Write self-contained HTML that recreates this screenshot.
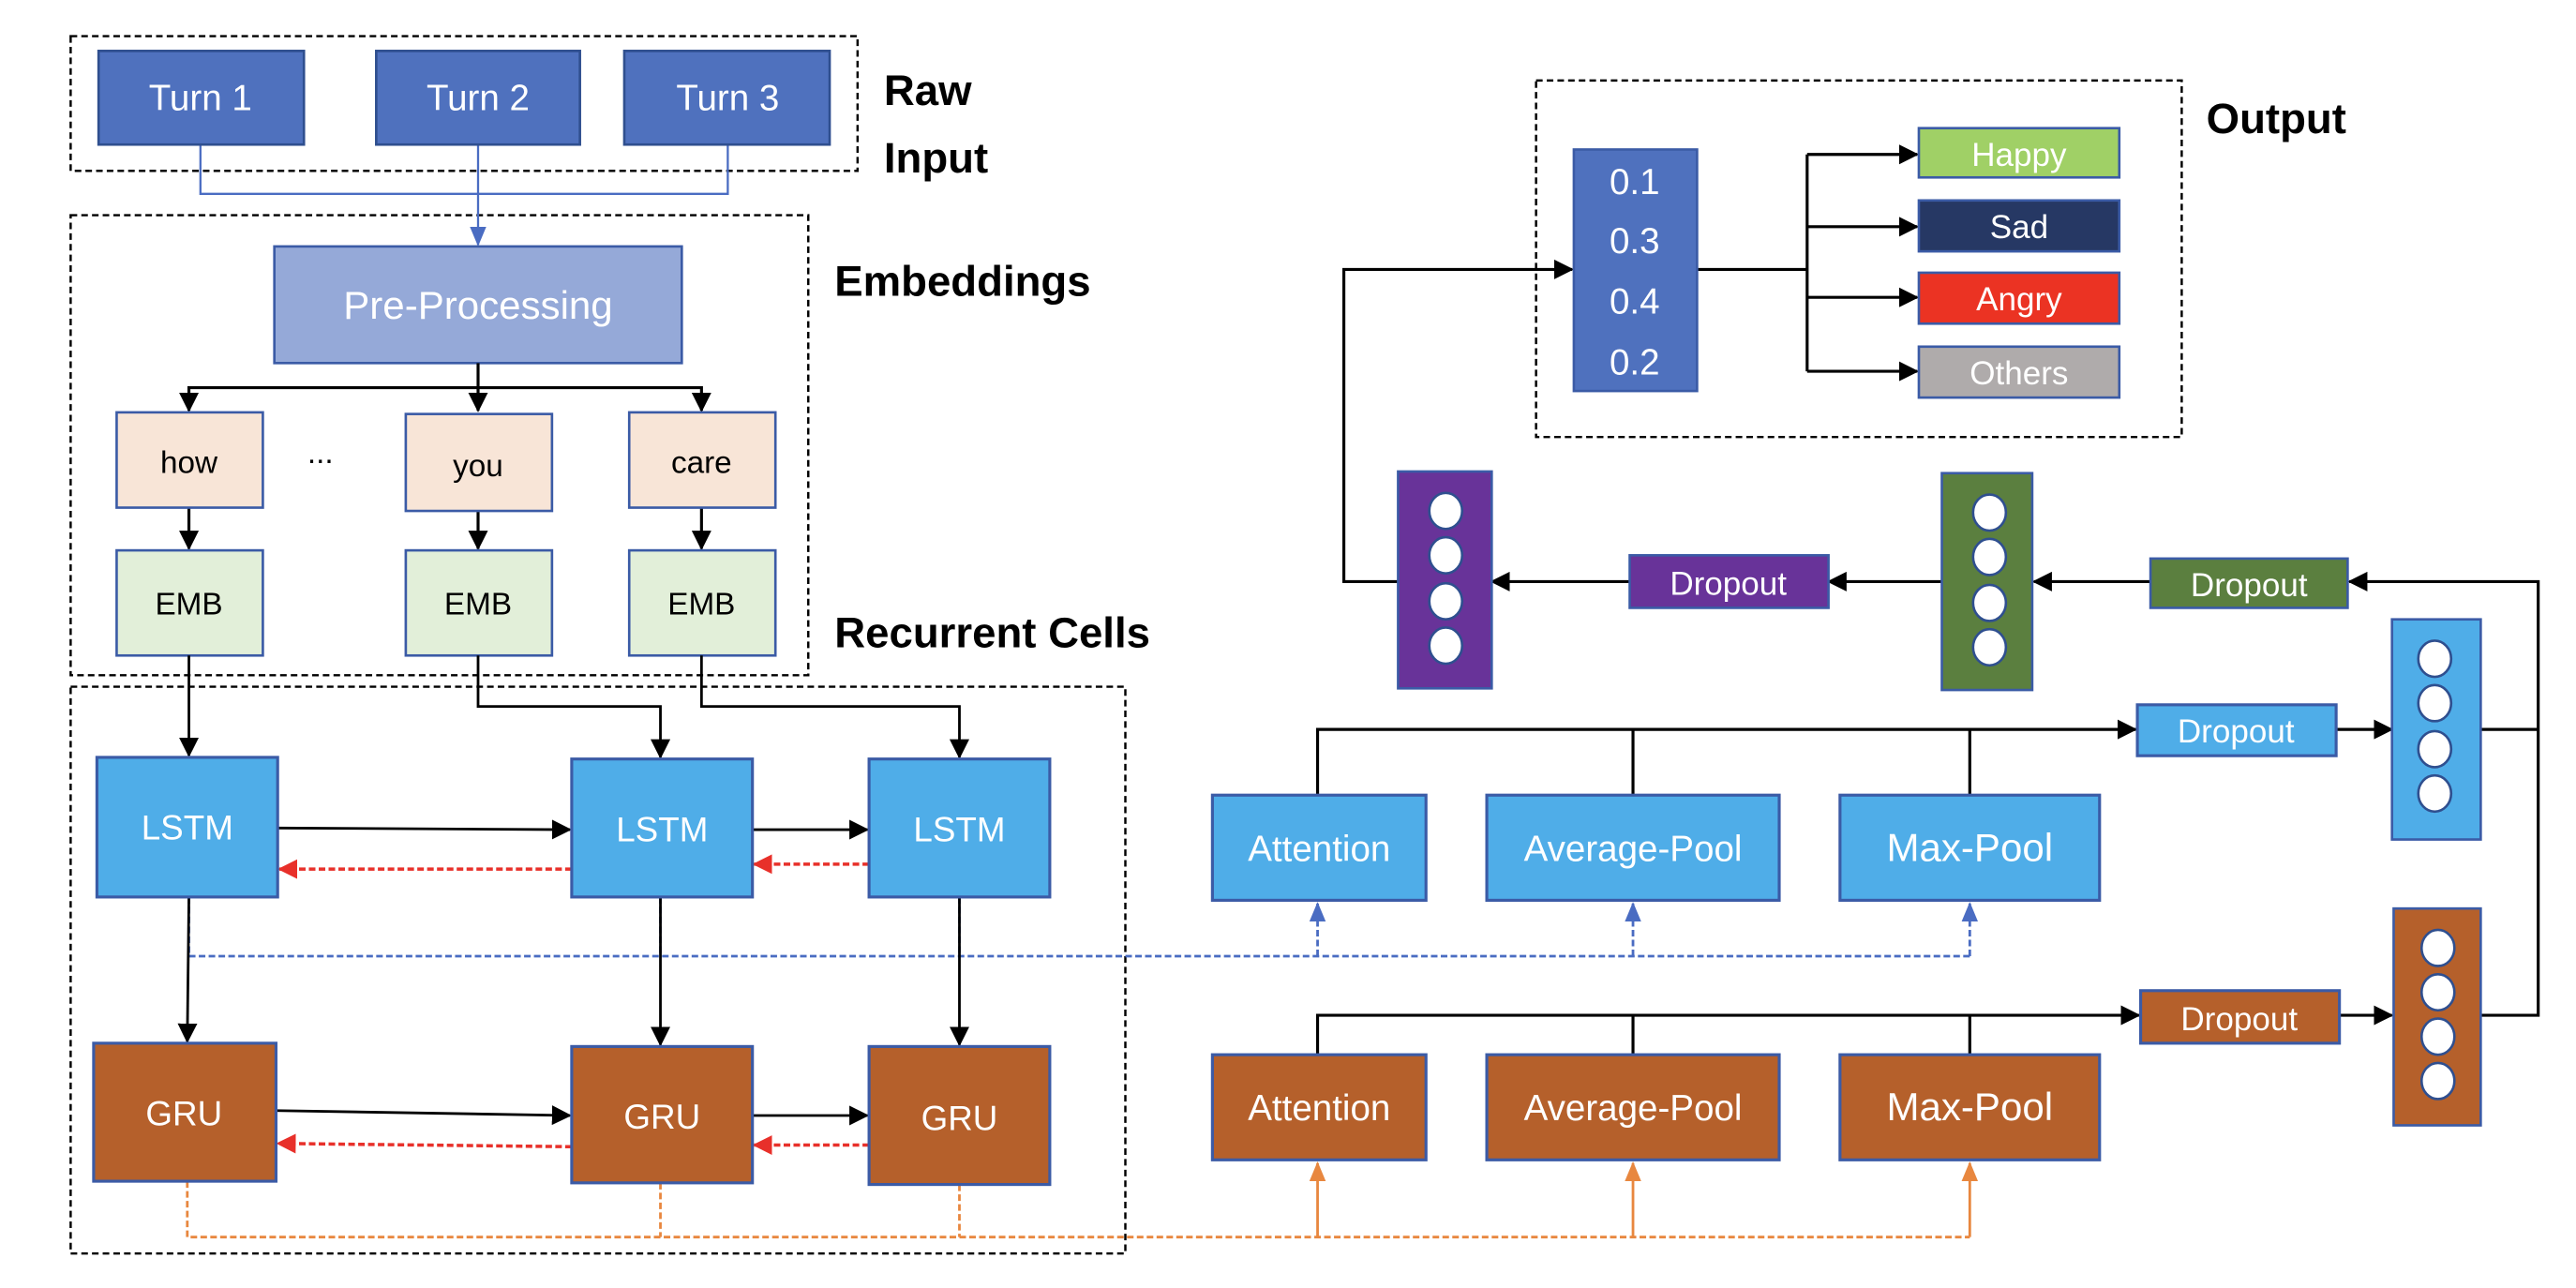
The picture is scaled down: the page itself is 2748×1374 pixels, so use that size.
<!DOCTYPE html>
<html><head><meta charset="utf-8"><style>
html,body{margin:0;padding:0;background:#fff;}
svg{display:block;}
text{font-family:"Liberation Sans",sans-serif;}
</style></head><body>
<svg width="2748" height="1374" viewBox="0 0 1568 784" xmlns="http://www.w3.org/2000/svg">
<defs>
<marker id="ab" markerWidth="12" markerHeight="12" refX="11" refY="6" orient="auto" markerUnits="userSpaceOnUse"><path d="M0,0 L12,6 L0,12 z" fill="#000"/></marker>
<marker id="ar" markerWidth="12" markerHeight="12" refX="11" refY="6" orient="auto" markerUnits="userSpaceOnUse"><path d="M0,0 L12,6 L0,12 z" fill="#e8302a"/></marker>
<marker id="abl" markerWidth="12" markerHeight="12" refX="11" refY="6" orient="auto" markerUnits="userSpaceOnUse"><path d="M0,1 L12,6 L0,11 z" fill="#4a6cc2"/></marker>
<marker id="ao" markerWidth="12" markerHeight="12" refX="11" refY="6" orient="auto" markerUnits="userSpaceOnUse"><path d="M0,1 L12,6 L0,11 z" fill="#e8873f"/></marker>
</defs>

<g fill="none" stroke="#000" stroke-width="1.4" stroke-dasharray="4,2.5">
<rect x="43" y="22" width="479" height="82"/>
<rect x="43" y="131" width="449" height="280"/>
<rect x="43" y="418" width="642" height="345"/>
<rect x="935" y="49" width="393" height="217"/>
</g>

<g font-weight="bold" font-size="26" fill="#000">
<text x="538" y="64">Raw</text>
<text x="538" y="105">Input</text>
<text x="508" y="180">Embeddings</text>
<text x="508" y="394">Recurrent Cells</text>
<text x="1343" y="81">Output</text>
</g>

<g fill="none" stroke="#4a6cc2" stroke-width="1.3">
<path d="M122,88 V118 H443 V88"/>
<path d="M291,88 V149" marker-end="url(#abl)"/>
</g>

<g stroke="#2f4f8f" stroke-width="1.5" fill="#4f71be">
<rect x="60" y="31" width="125" height="57"/>
<rect x="229" y="31" width="124" height="57"/>
<rect x="380" y="31" width="125" height="57"/>
</g>
<g fill="#fff" font-size="22" text-anchor="middle">
<text x="122" y="67">Turn 1</text>
<text x="291" y="67">Turn 2</text>
<text x="443" y="67">Turn 3</text>
</g>

<rect x="167" y="150" width="248" height="71" fill="#95a9d8" stroke="#3b5ba6" stroke-width="1.5"/>
<text x="291" y="194" fill="#fff" font-size="24" text-anchor="middle">Pre-Processing</text>

<g fill="none" stroke="#000" stroke-width="1.8">
<path d="M291,221 V236 H115 V250" marker-end="url(#ab)"/>
<path d="M291,236 V250" marker-end="url(#ab)"/>
<path d="M291,236 H427 V250" marker-end="url(#ab)"/>
<path d="M115,309 V334" marker-end="url(#ab)"/>
<path d="M291,311 V334" marker-end="url(#ab)"/>
<path d="M427,309 V334" marker-end="url(#ab)"/>
</g>

<g stroke="#3b5ba6" stroke-width="1.5" fill="#f8e5d7">
<rect x="71" y="251" width="89" height="58"/>
<rect x="247" y="252" width="89" height="59"/>
<rect x="383" y="251" width="89" height="58"/>
</g>
<g font-size="19" text-anchor="middle" fill="#000">
<text x="115" y="288">how</text>
<text x="291" y="290">you</text>
<text x="427" y="288">care</text>
<text x="195" y="282">...</text>
</g>
<g stroke="#3b5ba6" stroke-width="1.5" fill="#e2efd9">
<rect x="71" y="335" width="89" height="64"/>
<rect x="247" y="335" width="89" height="64"/>
<rect x="383" y="335" width="89" height="64"/>
</g>
<g font-size="19" text-anchor="middle" fill="#000">
<text x="115" y="374">EMB</text>
<text x="291" y="374">EMB</text>
<text x="427" y="374">EMB</text>
</g>

<g fill="none" stroke="#000" stroke-width="1.6">
<path d="M115,399 V460" marker-end="url(#ab)"/>
<path d="M291,399 V430 H402 V461" marker-end="url(#ab)"/>
<path d="M427,399 V430 H584 V461" marker-end="url(#ab)"/>
</g>

<g fill="none" stroke="#4a6cc2" stroke-width="1.6" stroke-dasharray="4,2">
<path d="M115,546 V582 H1199"/>
<path d="M402,546 V582"/>
<path d="M584,546 V582"/>
<path d="M802,582 V550" marker-end="url(#abl)"/>
<path d="M994,582 V550" marker-end="url(#abl)"/>
<path d="M1199,582 V550" marker-end="url(#abl)"/>
</g>
<g fill="none" stroke="#e8873f" stroke-width="1.6" stroke-dasharray="4,2">
<path d="M114,719 V753 H1199"/>
<path d="M402,720 V753"/>
<path d="M584,721 V753"/>
</g>
<g fill="none" stroke="#e8873f" stroke-width="1.6">
<path d="M802,753 V708" marker-end="url(#ao)"/>
<path d="M994,753 V708" marker-end="url(#ao)"/>
<path d="M1199,753 V708" marker-end="url(#ao)"/>
</g>

<g fill="none" stroke="#000" stroke-width="1.6">
<path d="M115,546 L114,634" marker-end="url(#ab)"/>
<path d="M402,546 V636" marker-end="url(#ab)"/>
<path d="M584,546 V636" marker-end="url(#ab)"/>
<path d="M169,504 L347,505" marker-end="url(#ab)"/>
<path d="M458,505 H528" marker-end="url(#ab)"/>
<path d="M168,676 L347,679" marker-end="url(#ab)"/>
<path d="M458,679 H528" marker-end="url(#ab)"/>
</g>
<g fill="none" stroke="#e8302a" stroke-width="2" stroke-dasharray="4,2">
<path d="M348,529 H170" marker-end="url(#ar)"/>
<path d="M529,526 H459" marker-end="url(#ar)"/>
<path d="M348,698 L169,696" marker-end="url(#ar)"/>
<path d="M529,697 H459" marker-end="url(#ar)"/>
</g>

<g stroke="#3b5ba6" stroke-width="1.8" fill="#4fade8">
<rect x="59" y="461" width="110" height="85"/>
<rect x="348" y="462" width="110" height="84"/>
<rect x="529" y="462" width="110" height="84"/>
</g>
<g fill="#fff" font-size="21" text-anchor="middle">
<text x="114" y="511">LSTM</text>
<text x="403" y="512">LSTM</text>
<text x="584" y="512">LSTM</text>
</g>
<g stroke="#3b5ba6" stroke-width="1.8" fill="#b5602b">
<rect x="57" y="635" width="111" height="84"/>
<rect x="348" y="637" width="110" height="83"/>
<rect x="529" y="637" width="110" height="84"/>
</g>
<g fill="#fff" font-size="21" text-anchor="middle">
<text x="112" y="685">GRU</text>
<text x="403" y="687">GRU</text>
<text x="584" y="688">GRU</text>
</g>

<g fill="none" stroke="#000" stroke-width="1.8">
<path d="M802,484 V444 H1300" marker-end="url(#ab)"/>
<path d="M994,484 V444"/>
<path d="M1199,484 V444"/>
<path d="M1422,444 H1456" marker-end="url(#ab)"/>
<path d="M802,642 V618 H1302" marker-end="url(#ab)"/>
<path d="M994,642 V618"/>
<path d="M1199,642 V618"/>
<path d="M1424,618 H1456" marker-end="url(#ab)"/>
<path d="M1510,444 H1545"/>
<path d="M1510,618 H1545 V354 H1430" marker-end="url(#ab)"/>
<path d="M1309,354 H1238" marker-end="url(#ab)"/>
<path d="M1182,354 H1113" marker-end="url(#ab)"/>
<path d="M992,354 H908" marker-end="url(#ab)"/>
<path d="M851,354 H818 V164 H957" marker-end="url(#ab)"/>
<path d="M1033,164 H1100"/>
<path d="M1100,94 V226"/>
<path d="M1100,94 H1167" marker-end="url(#ab)"/>
<path d="M1100,138 H1167" marker-end="url(#ab)"/>
<path d="M1100,181 H1167" marker-end="url(#ab)"/>
<path d="M1100,226 H1167" marker-end="url(#ab)"/>
</g>

<g stroke="#3b5ba6" stroke-width="1.8" fill="#4fade8">
<rect x="738" y="484" width="130" height="64"/>
<rect x="905" y="484" width="178" height="64"/>
<rect x="1120" y="484" width="158" height="64"/>
<rect x="1301" y="429" width="121" height="31"/>
</g>
<g stroke="#3b5ba6" stroke-width="1.8" fill="#b5602b">
<rect x="738" y="642" width="130" height="64"/>
<rect x="905" y="642" width="178" height="64"/>
<rect x="1120" y="642" width="158" height="64"/>
<rect x="1303" y="603" width="121" height="32"/>
</g>
<g fill="#fff" font-size="22" text-anchor="middle">
<text x="803" y="524">Attention</text>
<text x="994" y="524">Average-Pool</text>
<text x="1199" y="524" font-size="24">Max-Pool</text>
<text x="803" y="682">Attention</text>
<text x="994" y="682">Average-Pool</text>
<text x="1199" y="682" font-size="24">Max-Pool</text>
<text x="1361" y="452" font-size="20">Dropout</text>
<text x="1363" y="627" font-size="20">Dropout</text>
</g>

<rect x="1309" y="340" width="120" height="30" fill="#5b7f3f" stroke="#3b5ba6" stroke-width="1.5"/>
<text x="1369" y="363" fill="#fff" font-size="20" text-anchor="middle">Dropout</text>
<rect x="992" y="338" width="121" height="32" fill="#683399" stroke="#3b5ba6" stroke-width="1.5"/>
<text x="1052" y="362" fill="#fff" font-size="20" text-anchor="middle">Dropout</text>

<rect x="851" y="287" width="57" height="132" fill="#683399" stroke="#3b5ba6" stroke-width="1.5"/>
<rect x="1182" y="288" width="55" height="132" fill="#5b7f3f" stroke="#3b5ba6" stroke-width="1.5"/>
<rect x="1456" y="377" width="54" height="134" fill="#4fade8" stroke="#3b5ba6" stroke-width="1.5"/>
<rect x="1457" y="553" width="53" height="132" fill="#b5602b" stroke="#3b5ba6" stroke-width="1.5"/>
<g fill="#fff" stroke="#2f4f8f" stroke-width="1.5">
<ellipse cx="880" cy="311" rx="10" ry="11"/><ellipse cx="880" cy="338" rx="10" ry="11"/><ellipse cx="880" cy="366" rx="10" ry="11"/><ellipse cx="880" cy="393" rx="10" ry="11"/>
<ellipse cx="1211" cy="312" rx="10" ry="11"/><ellipse cx="1211" cy="339" rx="10" ry="11"/><ellipse cx="1211" cy="367" rx="10" ry="11"/><ellipse cx="1211" cy="394" rx="10" ry="11"/>
<ellipse cx="1482" cy="401" rx="10" ry="11"/><ellipse cx="1482" cy="428" rx="10" ry="11"/><ellipse cx="1482" cy="456" rx="10" ry="11"/><ellipse cx="1482" cy="483" rx="10" ry="11"/>
<ellipse cx="1484" cy="577" rx="10" ry="11"/><ellipse cx="1484" cy="604" rx="10" ry="11"/><ellipse cx="1484" cy="631" rx="10" ry="11"/><ellipse cx="1484" cy="658" rx="10" ry="11"/>
</g>

<rect x="958" y="91" width="75" height="147" fill="#4f71be" stroke="#3b5ba6" stroke-width="1.5"/>
<g fill="#fff" font-size="22" text-anchor="middle">
<text x="995" y="118">0.1</text>
<text x="995" y="154">0.3</text>
<text x="995" y="191">0.4</text>
<text x="995" y="228">0.2</text>
</g>
<g stroke="#3b5ba6" stroke-width="1.5">
<rect x="1168" y="78" width="122" height="30" fill="#a0d066"/>
<rect x="1168" y="122" width="122" height="31" fill="#263864"/>
<rect x="1168" y="166" width="122" height="31" fill="#eb3323"/>
<rect x="1168" y="211" width="122" height="31" fill="#afabab"/>
</g>
<g fill="#fff" font-size="20" text-anchor="middle">
<text x="1229" y="101">Happy</text>
<text x="1229" y="145">Sad</text>
<text x="1229" y="189">Angry</text>
<text x="1229" y="234">Others</text>
</g>
</svg>
</body></html>
